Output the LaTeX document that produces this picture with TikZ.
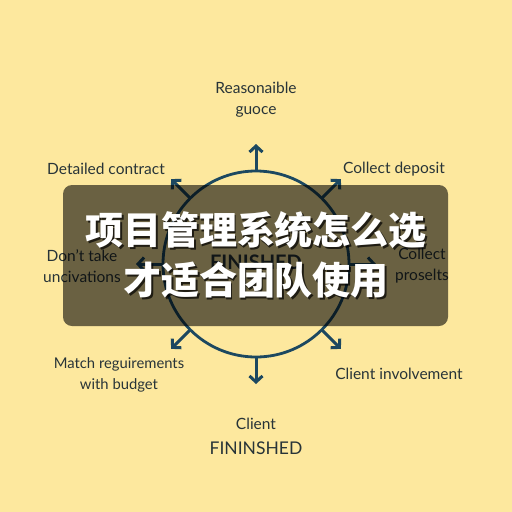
\documentclass[tikz,border=0pt]{standalone}
\usepackage{fontspec}
\setmainfont{Lato}
\newfontfamily\cjk{Noto Sans CJK SC}
\usepackage{xcolor}
\usetikzlibrary{arrows.meta}
\definecolor{bgyellow}{RGB}{253,232,158}
\definecolor{ringblue}{RGB}{28,72,96}
\definecolor{labelgray}{RGB}{40,52,56}

\begin{document}
\begin{tikzpicture}[x=1pt,y=-1pt,
    lbl/.style={text=labelgray,align=center,font=\fontsize{15.5}{21}\selectfont},
    arr/.style={-{Straight Barb[length=6pt,width=13pt,line width=3pt]},line width=3pt,draw=ringblue},
    title/.style={font=\cjk\bfseries\fontsize{38}{50}\selectfont,align=center}
  ]
    \fill[bgyellow] (0,0) rectangle (512,512);
    \node[circle,draw=ringblue,line width=2.8pt,minimum size=186pt,inner sep=0pt,outer sep=0pt] (ring) at (256,264) {};
    \foreach \a in {0,45,...,315}{
      \path (ring.center) ++(\a:120pt) coordinate (tip\a);
      \draw[arr] (ring.\a) -- (tip\a);
    }
    \node[text=labelgray,font=\bfseries\fontsize{20}{24}\selectfont] (done) at (256,262) {FINISHED};
    \node[lbl] (reason) at (256,100) {Reasonaible\\guoce};
    \node[lbl] (detail) at (106,169) {Detailed contract};
    \node[lbl] (deposit) at (394,169) {Collect deposit};
    \node[lbl] (donttake) at (82,266) {Don't take\\uncivations};
    \node[lbl] (collect) at (422,266) {Collect\\proselts};
    \node[lbl,font=\fontsize{14.8}{21}\selectfont] (match) at (119,375) {Match reguirements\\with budget};
    \node[lbl] (involve) at (399,374) {Client involvement};
    \node[lbl] (client) at (256,424) {Client};
    \node[lbl,font=\fontsize{17.5}{21}\selectfont] (fin) at (256,448) {FININSHED};
    % dark banner over the diagram
    \fill[black,opacity=0.58,rounded corners=9pt] (63,185) rectangle (448,326);
    \node[title,text=black,opacity=0.7] (shadow) at (258,257) {项目管理系统怎么选\\才适合团队使用};
    \node[title,text=white] (title) at (256,255) {项目管理系统怎么选\\才适合团队使用};
  \end{tikzpicture}
\end{document}
